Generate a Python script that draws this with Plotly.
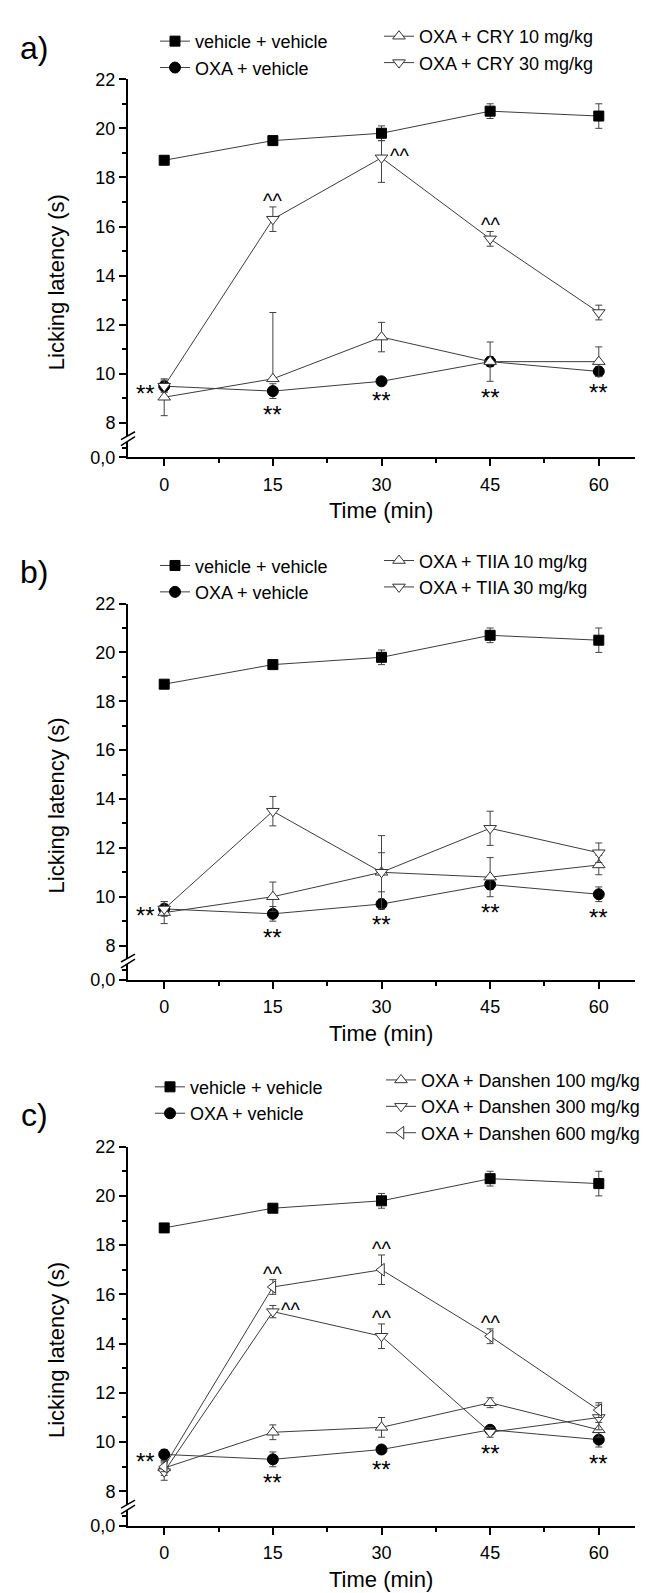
import plotly.graph_objects as go

# ---------------- data ----------------
times = [0, 15, 30, 45, 60]
x_tick_vals = [0, 15, 30, 45, 60]
y_tick_vals = [8, 10, 12, 14, 16, 18, 20, 22]
y_break_val = 6.6
y_break_label = "0,0"

# panel a
a_veh = [18.7, 19.5, 19.8, 20.7, 20.5]
a_veh_err = [0.15, 0.15, 0.3, 0.3, 0.5]
a_oxa = [9.5, 9.3, 9.7, 10.5, 10.1]
a_oxa_err = [0.2, 0.3, 0.15, 0.2, 0.2]
a_cry10 = [9.05, 9.8, 11.5, 10.5, 10.5]
a_cry10_up = [0.75, 2.7, 0.6, 0.8, 0.6]
a_cry10_dn = [0.75, 0.0, 0.6, 0.8, 0.6]
a_cry30 = [9.5, 16.3, 18.8, 15.5, 12.5]
a_cry30_up = [0.25, 0.5, 0.7, 0.3, 0.3]
a_cry30_dn = [0.25, 0.5, 1.0, 0.3, 0.3]

# panel b
b_veh = [18.7, 19.5, 19.8, 20.7, 20.5]
b_veh_err = [0.15, 0.15, 0.3, 0.3, 0.5]
b_oxa = [9.5, 9.3, 9.7, 10.5, 10.1]
b_oxa_err = [0.2, 0.3, 0.2, 0.2, 0.3]
b_tiia10 = [9.35, 10.0, 11.0, 10.8, 11.3]
b_tiia10_err = [0.45, 0.6, 0.8, 0.8, 0.4]
b_tiia30 = [9.5, 13.5, 11.0, 12.8, 11.8]
b_tiia30_err = [0.3, 0.6, 1.5, 0.7, 0.4]

# panel c
c_veh = [18.7, 19.5, 19.8, 20.7, 20.5]
c_veh_err = [0.15, 0.15, 0.3, 0.3, 0.5]
c_oxa = [9.5, 9.3, 9.7, 10.5, 10.1]
c_oxa_err = [0.2, 0.3, 0.15, 0.15, 0.3]
c_d100 = [8.95, 10.4, 10.6, 11.6, 10.5]
c_d100_err = [0.3, 0.3, 0.4, 0.2, 0.3]
c_d300 = [8.8, 15.3, 14.3, 10.4, 11.0]
c_d300_err = [0.35, 0.25, 0.5, 0.2, 0.5]
c_d600 = [9.0, 16.3, 17.0, 14.3, 11.3]
c_d600_err = [0.2, 0.3, 0.6, 0.3, 0.3]

names = {
    "veh": "vehicle + vehicle",
    "oxa": "OXA + vehicle",
    "cry10": "OXA + CRY 10 mg/kg",
    "cry30": "OXA + CRY 30 mg/kg",
    "tiia10": "OXA + TIIA 10 mg/kg",
    "tiia30": "OXA + TIIA 30 mg/kg",
    "d100": "OXA + Danshen 100 mg/kg",
    "d300": "OXA + Danshen 300 mg/kg",
    "d600": "OXA + Danshen 600 mg/kg",
}

panels = [
    dict(letter="a)", series=[
        ("veh", a_veh, a_veh_err, a_veh_err, "square"),
        ("oxa", a_oxa, a_oxa_err, a_oxa_err, "circle"),
        ("cry10", a_cry10, a_cry10_up, a_cry10_dn, "triangle-up"),
        ("cry30", a_cry30, a_cry30_up, a_cry30_dn, "triangle-down"),
    ], carets=[("cry30", 1, "above"), ("cry30", 2, "right"), ("cry30", 3, "above")]),
    dict(letter="b)", series=[
        ("veh", b_veh, b_veh_err, b_veh_err, "square"),
        ("oxa", b_oxa, b_oxa_err, b_oxa_err, "circle"),
        ("tiia10", b_tiia10, b_tiia10_err, b_tiia10_err, "triangle-up"),
        ("tiia30", b_tiia30, b_tiia30_err, b_tiia30_err, "triangle-down"),
    ], carets=[]),
    dict(letter="c)", series=[
        ("veh", c_veh, c_veh_err, c_veh_err, "square"),
        ("oxa", c_oxa, c_oxa_err, c_oxa_err, "circle"),
        ("d100", c_d100, c_d100_err, c_d100_err, "triangle-up"),
        ("d300", c_d300, c_d300_err, c_d300_err, "triangle-down"),
        ("d600", c_d600, c_d600_err, c_d600_err, "triangle-left"),
    ], carets=[("d600", 1, "above"), ("d300", 1, "right"), ("d600", 2, "above"),
               ("d300", 2, "above"), ("d600", 3, "above")]),
]

# ---------------- layout geometry (pixels) ----------------
W, H = 654, 1593
FONT = "Liberation Sans, Arial, sans-serif"
AX_LEFT, AX_RIGHT = 120, 627
panel_top = [62, 593, 1143]      # pixel row of y = 22
panel_bot = [445, 974, 1527]     # pixel row of x axis line
legend_left = [(147, 5), (147, 536), (142, 1064)]
legend_right = [(371, 0), (371, 531), (373, 1057)]


def px(x):
    return x / W


def py(y):
    return 1 - y / H


fig = go.Figure()
annotations = []
shapes = []
layout_axes = {}

for p, panel in enumerate(panels):
    k = "" if p == 0 else str(p + 1)
    xa, ya = "x" + k, "y" + k
    lg_l = "legend" if p == 0 else "legend" + str(2 * p + 1)
    lg_r = "legend" + str(2 * p + 2)
    for key, vals, up, dn, sym in panel["series"]:
        filled = sym in ("square", "circle")
        fig.add_trace(go.Scatter(
            x=times, y=vals, name=names[key], mode="lines+markers",
            xaxis=xa, yaxis=ya,
            legend=lg_l if key in ("veh", "oxa") else lg_r,
            line=dict(color="#3c3c3c", width=1),
            marker=dict(symbol=sym, size=10 if sym == "square" else 11,
                        color="black" if filled else "white",
                        line=dict(color="black" if filled else "#333333", width=1)),
            error_y=dict(type="data", symmetric=False, array=up, arrayminus=dn,
                         color="#444444", thickness=1, width=3.5),
        ))

    layout_axes["xaxis" + k] = dict(
        domain=[px(AX_LEFT), px(AX_RIGHT)], anchor=ya, range=[-5, 65],
        tickmode="array", tickvals=x_tick_vals, ticktext=[str(v) for v in x_tick_vals],
        ticks="outside", ticklen=7, tickwidth=1.5, tickcolor="black",
        minor=dict(dtick=7.5, tick0=0, ticks="outside", ticklen=4, tickwidth=1.5, tickcolor="black"),
        showline=True, linecolor="black", linewidth=2, showgrid=False, zeroline=False,
        tickfont=dict(family=FONT, size=18, color="black"), ticklabelstandoff=3,
    )
    layout_axes["yaxis" + k] = dict(
        domain=[py(panel_bot[p]), py(panel_top[p])], anchor=xa, range=[y_break_val, 22],
        tickmode="array", tickvals=[y_break_val] + y_tick_vals,
        ticktext=[y_break_label] + [str(v) for v in y_tick_vals],
        ticks="outside", ticklen=7, tickwidth=1.5, tickcolor="black",
        minor=dict(dtick=1, tick0=0, ticks="outside", ticklen=4, tickwidth=1.5, tickcolor="black"),
        showline=True, linecolor="black", linewidth=2, showgrid=False, zeroline=False,
        tickfont=dict(family=FONT, size=18, color="black"),
    )

    # legends
    for lg, (lx, ly) in ((lg_l, legend_left[p]), (lg_r, legend_right[p])):
        layout_axes[lg] = dict(
            x=px(lx), y=py(ly), xanchor="left", yanchor="top",
            bgcolor="rgba(0,0,0,0)", borderwidth=0, itemwidth=30, tracegroupgap=0,
            font=dict(family=FONT, size=18, color="black"),
        )

    # panel letter
    annotations.append(dict(text=panel["letter"], xref="paper", yref="paper",
                            x=px(26), y=py(panel_top[p] - 32), showarrow=False,
                            xanchor="center", yanchor="middle",
                            font=dict(family=FONT, size=32, color="black")))
    # axis titles
    annotations.append(dict(text="Licking latency (s)", xref="paper", yref="paper",
                            x=px(48), y=py((panel_top[p] + panel_bot[p]) / 2 + 14),
                            textangle=-90, showarrow=False, xanchor="center", yanchor="middle",
                            font=dict(family=FONT, size=22, color="black")))
    annotations.append(dict(text="Time (min)", xref="paper", yref="paper",
                            x=px(373), y=py(panel_bot[p] + 54), showarrow=False,
                            xanchor="center", yanchor="middle",
                            font=dict(family=FONT, size=22, color="black")))

    # significance marks: ** below the lowest error bar at each time point
    ser = {s[0]: s for s in panel["series"]}
    oxa_vals = ser["oxa"][1]
    annotations.append(dict(text="**", xref=xa, yref=ya, x=times[0], y=oxa_vals[0],
                            xshift=-19, yshift=-7, showarrow=False,
                            font=dict(family=FONT, size=24, color="black")))
    for i in range(1, len(times)):
        low = min(s[1][i] - s[3][i] for s in panel["series"])
        annotations.append(dict(text="**", xref=xa, yref=ya, x=times[i], y=low,
                                yshift=-16, showarrow=False,
                                font=dict(family=FONT, size=24, color="black")))
    # ^^ marks
    for key, i, where in panel["carets"]:
        s = ser[key]
        if where == "above":
            annotations.append(dict(text="^^", xref=xa, yref=ya, x=times[i], y=s[1][i] + s[2][i],
                                    yshift=6, showarrow=False,
                                    font=dict(family=FONT, size=20, color="black")))
        else:
            annotations.append(dict(text="^^", xref=xa, yref=ya, x=times[i], y=s[1][i],
                                    xshift=18, yshift=2, showarrow=False,
                                    font=dict(family=FONT, size=20, color="black")))

    # axis break marks
    b = panel_bot[p]
    shapes.append(dict(type="path", xref="paper", yref="paper", layer="above",
                       path="M {} {} L {} {} L {} {} L {} {} Z".format(
                           px(113), py(b - 18), px(127), py(b - 26),
                           px(127), py(b - 21), px(113), py(b - 12)),
                       fillcolor="white", line=dict(width=0)))
    for d0, d1 in ((18, 26), (12, 21)):
        shapes.append(dict(type="line", xref="paper", yref="paper", layer="above",
                           x0=px(113), y0=py(b - d0), x1=px(127), y1=py(b - d1),
                           line=dict(color="black", width=1.5)))

fig.update_layout(
    width=W, height=H, margin=dict(l=0, r=0, t=0, b=0),
    paper_bgcolor="white", plot_bgcolor="white",
    font=dict(family=FONT, size=18, color="black"),
    showlegend=True, annotations=annotations, shapes=shapes,
    **layout_axes,
)

fig.write_html("out.html")
